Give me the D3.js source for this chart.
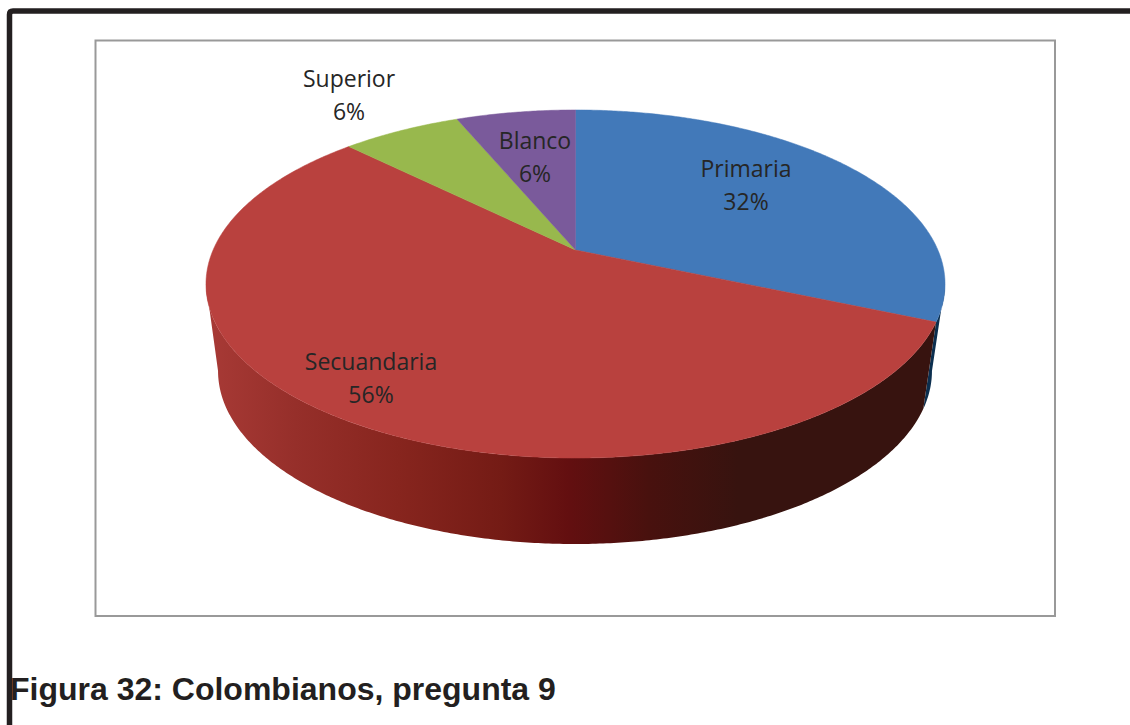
<!DOCTYPE html>
<html lang="es">
<head>
    <meta charset="UTF-8">
    <title>Figura 32</title>
    <script src="https://d3js.org/d3.v7.min.js"></script>
    <style>
        html, body { margin: 0; padding: 0; background: #fff; overflow: hidden; }
        .label { font: 23px "Open Sans", sans-serif; fill: #262626; text-anchor: middle; }
        .caption { font: bold 32px "Liberation Sans", sans-serif; fill: #231f20; }
    </style>
</head>
<body>
<script type="text/javascript">

    var categories = ["Primaria", "Secuandaria", "Superior", "Blanco"];
    var values = [31.5, 55.9, 6.3, 6.3];
    var colors = ["#4279b9", "#b9413e", "#98b84d", "#7a5a9b"];
    var sideColors = ["#0c2f4f", "url(#sideShade)", "#98b84d", "#7a5a9b"];
    var captionText = "Figura 32: Colombianos, pregunta 9";

    // where Excel put the data labels (centre x, baseline of first line)
    var labelX = [746, 371, 349, 535];
    var labelY = [177, 370, 87, 149];

    var width = 1130, height = 725;

    // pie seen in perspective: the apex sits above the middle of the ellipse
    var apex = {x: 575.5, y: 250};
    var radiusX = 362.4, radiusY = 167.4, tilt = 0.1954;

    // bottom rim of the pie is a bit smaller and further down
    var rimScaleX = 0.966, rimScaleY = 0.994, topMidY = 34, rimMidX = 575, rimMidY = 371;

    function project(a) {
        var u = Math.sin(a), v = -Math.cos(a), d = 1 - tilt * v;
        return [apex.x + radiusX * u / d, apex.y + radiusY * v / d];
    }

    function projectRim(a) {
        var p = project(a);
        return [rimMidX + (p[0] - apex.x) * rimScaleX,
                rimMidY + (p[1] - apex.y - topMidY) * rimScaleY];
    }

    function sweep(a0, a1) {
        var n = Math.max(2, Math.ceil((a1 - a0) * 120));
        return d3.range(n + 1).map(function(i){ return a0 + (a1 - a0) * i / n; });
    }

    var svg = d3.select("body").append("svg")
            .attr("width", width)
            .attr("height", height)
            .style("display", "block");

    var shade = svg.append("defs").append("linearGradient")
            .attr("id", "sideShade")
            .attr("gradientUnits", "userSpaceOnUse")
            .attr("x1", 206).attr("x2", 945).attr("y1", 0).attr("y2", 0);

    [[0, "#a83a36"], [0.12, "#962f2a"], [0.26, "#87251e"], [0.40, "#741b15"],
     [0.49, "#630f10"], [0.60, "#48110e"], [0.72, "#37130f"], [1, "#37130f"]].forEach(function(s){
        shade.append("stop").attr("offset", s[0]).attr("stop-color", s[1]);
    });

    // outer page frame and chart box
    svg.append("path")
            .attr("d", "M1130,11 H13 Q9.5,11 9.5,14.5 V725")
            .attr("fill", "none")
            .attr("stroke", "#231f20")
            .attr("stroke-width", 5.5);

    svg.append("rect")
            .attr("x", 95.5).attr("y", 40.5)
            .attr("width", 959.5).attr("height", 575.5)
            .attr("fill", "#fff")
            .attr("stroke", "#999")
            .attr("stroke-width", 2);

    var arcs = d3.pie().sort(null)(values);
    var line = d3.line();

    // the side is only visible between the two extreme points of the ellipse
    var sideStart = Math.acos(-tilt), sideEnd = 2 * Math.PI - sideStart;

    svg.append("g").selectAll("path")
            .data(arcs.filter(function(d){ return d.startAngle < sideEnd && d.endAngle > sideStart; }))
            .enter().append("path")
            .attr("d", function(d){
                var s = sweep(Math.max(d.startAngle, sideStart), Math.min(d.endAngle, sideEnd));
                return line(s.map(project).concat(s.slice().reverse().map(projectRim))) + "Z";
            })
            .attr("fill", function(d){ return sideColors[d.index]; });

    svg.append("g").selectAll("path")
            .data(arcs).enter().append("path")
            .attr("d", function(d){
                return line([[apex.x, apex.y]].concat(sweep(d.startAngle, d.endAngle).map(project))) + "Z";
            })
            .attr("fill", function(d){ return colors[d.index]; })
            .attr("stroke", function(d){ return colors[d.index]; })
            .attr("stroke-width", 0.5);

    var labels = svg.append("g").selectAll("text")
            .data(arcs).enter().append("text")
            .attr("class", "label")
            .attr("y", function(d){ return labelY[d.index]; });

    labels.append("tspan")
            .attr("x", function(d){ return labelX[d.index]; })
            .text(function(d){ return categories[d.index]; });

    labels.append("tspan")
            .attr("x", function(d){ return labelX[d.index]; })
            .attr("dy", 32.5)
            .text(function(d){ return Math.round(d.value) + "%"; });

    svg.append("text")
            .attr("class", "caption")
            .attr("x", 10)
            .attr("y", 700)
            .text(captionText);

</script>
</body>
</html>
